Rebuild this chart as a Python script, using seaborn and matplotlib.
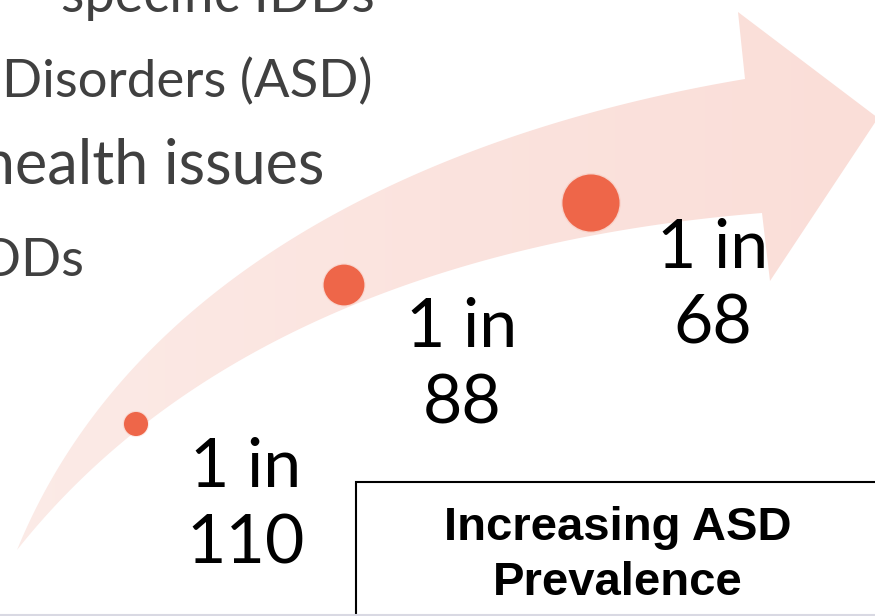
import numpy as np
import pandas as pd
import matplotlib
matplotlib.use("Agg")
import matplotlib.pyplot as plt
from matplotlib.patches import Polygon, Rectangle
from matplotlib.colors import LinearSegmentedColormap
import seaborn as sns

# ---------------- data ----------------
rates = [110, 88, 68]                      # "1 in N" prevalence
prevalence_per_1000 = [1000 / r for r in rates]
dot_x = [136, 344, 591]                    # position along the arrow (slide units)
dot_y = [424, 285, 203]
label_top = ["1 in", "1 in", "1 in"]
label_bottom = [str(r) for r in rates]
bullet_lines = ["specific IDDs", "Disorders (ASD)", "health issues", "IDDs"]

sns.set_theme(style="white")
plt.rcParams["font.family"] = ["Lato", "DejaVu Sans"]

W, H = 875, 616
fig = plt.figure(figsize=(W / 100, H / 100), dpi=100)
ax = fig.add_axes([0, 0, 1, 1])
ax.set_xlim(0, W)
ax.set_ylim(H, 0)
ax.axis("off")
fig.patch.set_facecolor("white")


def bezier_fit(pts, n=120):
    """Least-squares cubic Bezier through pts with fixed end points."""
    pts = np.asarray(pts, float)
    d = np.r_[0, np.cumsum(np.hypot(*np.diff(pts, axis=0).T))]
    t = d / d[-1]
    P0, P3 = pts[0], pts[-1]
    b0 = (1 - t) ** 3
    b1 = 3 * (1 - t) ** 2 * t
    b2 = 3 * (1 - t) * t ** 2
    b3 = t ** 3
    A = np.c_[b1, b2]
    rhs = pts - np.outer(b0, P0) - np.outer(b3, P3)
    sol, *_ = np.linalg.lstsq(A, rhs, rcond=None)
    P1, P2 = sol
    tt = np.linspace(0, 1, n)[:, None]
    return ((1 - tt) ** 3 * P0 + 3 * (1 - tt) ** 2 * tt * P1
            + 3 * (1 - tt) * tt ** 2 * P2 + tt ** 3 * P3)


# ---------------- curved arrow ----------------
upper = bezier_fit([(17, 550), (43, 490), (123, 380), (207, 300),
                    (380, 190), (480, 147), (580, 117), (680, 93), (745, 79)])
lower = bezier_fit([(17, 550), (77, 490), (203, 380), (343, 307), (480, 265),
                    (600, 233), (680, 222), (762, 213)])
head = np.array([(738, 12), (878, 118), (770, 281)])
poly = np.vstack([upper, head, lower[::-1]])
arrow = Polygon(poly, closed=True, facecolor="none", edgecolor="none")
ax.add_patch(arrow)
cmap = LinearSegmentedColormap.from_list("pk", ["#FCEBE7", "#FBE3DE", "#FADED8"])
grad = np.linspace(0, 1, 256)[None, :]
im = ax.imshow(grad, extent=[0, 880, 616, 0], cmap=cmap, aspect="auto", zorder=1)
im.set_clip_path(arrow)
ax.set_xlim(0, W)
ax.set_ylim(H, 0)

# ---------------- dots ----------------
df = pd.DataFrame({"x": dot_x, "y": dot_y, "prev": prevalence_per_1000})
sns.scatterplot(data=df, x="x", y="y", size="prev", sizes=(360, 1850),
                color="#EE6A4E", alpha=0.12, linewidth=0, legend=False, ax=ax, zorder=2)
sns.scatterplot(data=df, x="x", y="y", size="prev", sizes=(300, 1690),
                color="#EE6649", linewidth=0, legend=False, ax=ax, zorder=3)
ax.set_xlim(0, W)
ax.set_ylim(H, 0)
ax.set_xlabel("")
ax.set_ylabel("")

# ---------------- labels ----------------
label_cx = [246, 462, 713]
label_base = [487, 347, 268]
for cx, b, t1, t2 in zip(label_cx, label_base, label_top, label_bottom):
    ax.text(cx, b, t1, ha="center", va="baseline", fontsize=49,
            fontweight="normal", color="black", zorder=4)
    ax.text(cx, b + 76, t2, ha="center", va="baseline", fontsize=49,
            fontweight="normal", color="black", zorder=4)

# ---------------- bullet text (cut off on the left, as in the slide) ----------------
bullet_right = [375, 372, 324, 84]
bullet_base = [12, 97, 183, 276]
bullet_size = [39, 38, 44, 38]
for txt, xr, yb, fs in zip(bullet_lines, bullet_right, bullet_base, bullet_size):
    ax.text(xr, yb, txt, ha="right", va="baseline", fontsize=fs,
            fontweight="normal", color="#404040", zorder=4)

# ---------------- box ----------------
ax.add_patch(Rectangle((356, 482), 540, 160, facecolor="white",
                       edgecolor="black", linewidth=1.5, zorder=5))
ax.text(618, 540, "Increasing ASD", ha="center", va="baseline", fontsize=34,
        fontweight="bold", family=["Liberation Sans", "DejaVu Sans"], color="black", zorder=6)
ax.text(618, 595, "Prevalence", ha="center", va="baseline", fontsize=34,
        fontweight="bold", family=["Liberation Sans", "DejaVu Sans"], color="black", zorder=6)

ax.plot([0, W], [614.5, 614.5], color="#D9D9E3", linewidth=1.5, zorder=7)

fig.savefig("out.png", dpi=100, facecolor="white")
